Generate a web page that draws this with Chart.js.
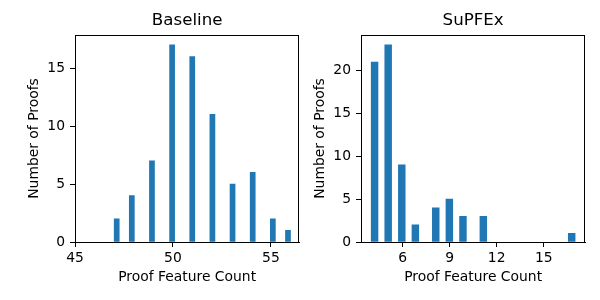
<!DOCTYPE html>
<html>
<head>
<meta charset="utf-8">
<script src="https://cdn.jsdelivr.net/npm/chart.js@4.4.1/dist/chart.umd.min.js"></script>
<style>
  html, body { margin: 0; padding: 0; background: #fff; overflow: hidden; }
  #wrap { position: relative; width: 600px; height: 300px; }
  canvas { position: absolute; top: 0; }
</style>
</head>
<body>
<div id="wrap">
  <canvas id="baseline" width="300" height="300" style="left:0px"></canvas>
  <canvas id="supfex" width="314" height="300" style="left:286px"></canvas>
</div>
<script>
// feature count -> number of proofs
const baselineValues = [47, 48, 49, 50, 51, 52, 53, 54, 55, 56];
const baselineCounts = [2, 4, 7, 17, 16, 11, 5, 6, 2, 1];
const baselineBins = 35;
const baselineXTicks = [45, 50, 55];
const baselineYTicks = [0, 5, 10, 15];

const supfexValues = [4, 5, 6, 7, 8, 9, 10, 11, 17];
const supfexCounts = [21, 23, 9, 2, 4, 5, 3, 3, 1];
const supfexBins = 30;
const supfexXTicks = [6, 9, 12, 15];
const supfexYTicks = [0, 5, 10, 15, 20];

Chart.defaults.font.family = "'DejaVu Sans', sans-serif";
Chart.defaults.font.size = 13.89;
Chart.defaults.color = "#000";

// matplotlib-style box around the axes
const boxPlugin = {
  id: "box",
  afterDraw(chart) {
    const a = chart.chartArea;
    const ctx = chart.ctx;
    ctx.save();
    ctx.strokeStyle = "#000";
    ctx.lineWidth = 1;
    ctx.strokeRect(Math.round(a.left) + 0.5, Math.round(a.top) + 0.5,
      Math.round(a.right) - Math.round(a.left) - 1, Math.round(a.bottom) - Math.round(a.top));
    ctx.restore();
  },
};

// place each value at the center of its histogram bin
function binPoints(values, counts, nBins) {
  const lo = Math.min(...values);
  const hi = Math.max(...values);
  const w = (hi - lo) / nBins;
  return values.map((v, i) => {
    let k = Math.floor((v - lo) / w);
    if (k >= nBins) k = nBins - 1;
    return { x: lo + (k + 0.5) * w, y: counts[i] };
  });
}

function makeHist(id, title, values, counts, nBins, xMin, xMax, yMax, xTicks, yTicks, padRight) {
  const lo = Math.min(...values);
  const hi = Math.max(...values);
  const binW = (hi - lo) / nBins;
  const chart = new Chart(document.getElementById(id), {
    type: "bar",
    data: {
      datasets: [{
        data: binPoints(values, counts, nBins),
        backgroundColor: "#1f77b4",
        borderWidth: 0,
        barThickness: 5,
      }],
    },
    options: {
      responsive: false,
      animation: false,
      layout: { padding: { left: 0, right: padRight, top: 0, bottom: 0 } },
      plugins: {
        legend: { display: false },
        tooltip: { enabled: false },
        title: {
          display: true,
          text: title,
          fullSize: false,
          color: "#000",
          font: { size: 16.67, weight: "normal" },
          padding: { top: 11, bottom: 4 },
        },
      },
      scales: {
        x: {
          type: "linear",
          min: xMin,
          max: xMax,
          offset: false,
          afterFit: (s) => { s.height = 58; },
          afterBuildTicks: (s) => { s.ticks = xTicks.map((v) => ({ value: v })); },
          grid: { offset: false, drawOnChartArea: false, drawTicks: true, tickLength: 5, tickColor: "#000" },
          border: { display: true, color: "#000", width: 1 },
          ticks: { padding: 3, maxRotation: 0, callback: (v) => String(v) },
          title: { display: true, text: "Proof Feature Count", padding: { top: 0, bottom: 14.3 } },
        },
        y: {
          min: 0,
          max: yMax,
          afterFit: (s) => { s.width = 75; },
          afterBuildTicks: (s) => { s.ticks = yTicks.map((v) => ({ value: v })); },
          grid: { drawOnChartArea: false, drawTicks: true, tickLength: 5, tickColor: "#000" },
          border: { display: true, color: "#000", width: 1 },
          ticks: { padding: 5, callback: (v) => String(v) },
          title: { display: true, text: "Number of Proofs", padding: { top: 25.7, bottom: 0 } },
        },
      },
    },
    plugins: [boxPlugin],
  });
  // bar width = one bin on the x scale
  const xs = chart.scales.x;
  chart.data.datasets[0].barThickness = xs.getPixelForValue(lo + binW) - xs.getPixelForValue(lo);
  chart.update("none");
  return chart;
}

makeHist("baseline", "Baseline", baselineValues, baselineCounts, baselineBins,
  45, 56.45, 17.85, baselineXTicks, baselineYTicks, 0.7);
makeHist("supfex", "SuPFEx", supfexValues, supfexCounts, supfexBins,
  3.35, 17.65, 24.15, supfexXTicks, supfexYTicks, 14.7);
</script>
</body>
</html>
